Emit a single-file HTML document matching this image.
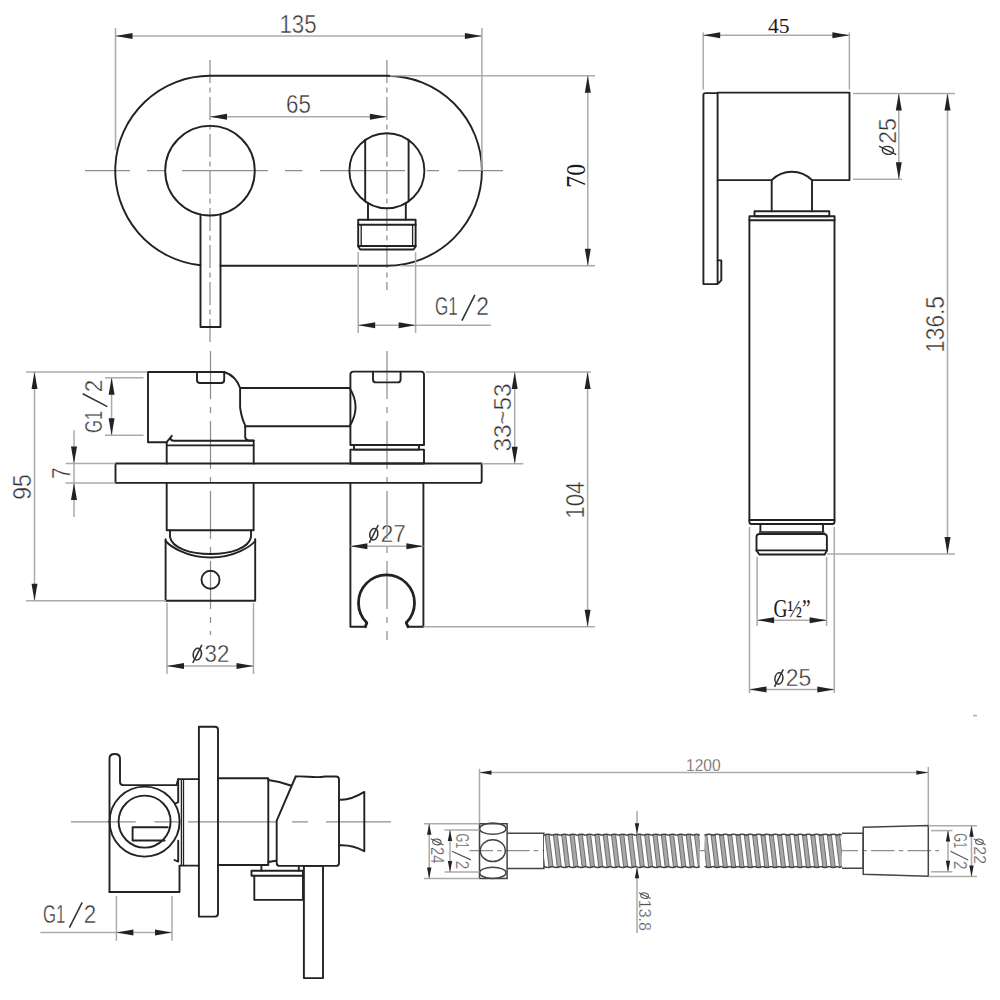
<!DOCTYPE html>
<html><head><meta charset="utf-8"><style>
html,body{margin:0;padding:0;background:#fff;}
svg{display:block;}
.k{fill:none;stroke:#222;stroke-width:1.9;stroke-linejoin:round;stroke-linecap:round;}
.k2{fill:none;stroke:#222;stroke-width:1.3;}
.h{fill:none;stroke:#444;stroke-width:1.5;}
.t{fill:none;stroke:#ababab;stroke-width:1.5;}
.c{fill:none;stroke:#8e8e8e;stroke-width:1.25;stroke-dasharray:30 5 5 5;}
.cs{fill:none;stroke:#8e8e8e;stroke-width:1.25;}
text{white-space:pre;}
</style></head><body>
<svg width="1000" height="1000" viewBox="0 0 1000 1000">
<rect width="1000" height="1000" fill="#fff"/>
<path class="cs" d="M85,170.7 H130 M147,170.7 H165 M182,170.7 H268 M285,170.7 H302.4 M320,170.7 H405 M427,170.7 H439 M458,170.7 H503" />
<path class="c" d="M210,60 V342" style="stroke-dasharray:23 4.5 5 4.5"/>
<path class="c" d="M386.9,60 V290" style="stroke-dasharray:23 4.5 5 4.5"/>
<path class="k" d="M220.5,265.7 H386.9 A95.0,95.0 0 0 0 386.9,75.69999999999999 H210 A95.0,95.0 0 0 0 200.5,265.2" />
<circle class="k" cx="210" cy="170.7" r="44.8"/>
<path class="k" d="M200.5,214.5 V327 H220.5 V214.5" />
<circle class="k" cx="386.9" cy="170.7" r="37.5"/>
<path class="k" d="M365.2,140.1 V201.29999999999998 M408.6,140.1 V201.29999999999998" />
<path class="k" d="M368,203.1 V219.7 M405.8,203.1 V219.7" />
<path class="k" d="M358.2,219.7 H415.6 V246.5 L413.6,249.5 H360.2 L358.2,246.5 Z" />
<path class="k" d="M358.2,224.8 H415.6 M358.2,246 H415.6" />
<path class="k2" d="M361.2,224.8 V246 M412.6,224.8 V246" />
<line class="t" x1="115.5" y1="28" x2="115.5" y2="150"/>
<line class="t" x1="481.9" y1="28" x2="481.9" y2="171"/>
<line class="t" x1="115.5" y1="36.1" x2="481.9" y2="36.1"/>
<polygon fill="#222" points="115.50,36.10 132.50,33.10 132.50,39.10"/>
<polygon fill="#222" points="481.90,36.10 464.90,33.10 464.90,39.10"/>
<text transform="translate(279.43,32.80) scale(0.8656,1)" font-family="Liberation Sans" font-size="25.71" fill="#333" stroke="#fff" stroke-width="0.45">135</text>
<line class="t" x1="210" y1="116.7" x2="386.9" y2="116.7"/>
<polygon fill="#222" points="210.00,116.70 227.00,113.70 227.00,119.70"/>
<polygon fill="#222" points="386.90,116.70 369.90,113.70 369.90,119.70"/>
<text transform="translate(286.08,113.20) scale(0.8597,1)" font-family="Liberation Sans" font-size="26.00" fill="#333" stroke="#fff" stroke-width="0.46">65</text>
<line class="t" x1="390" y1="75.7" x2="595" y2="75.7"/>
<line class="t" x1="400" y1="265.7" x2="595" y2="265.7"/>
<line class="t" x1="587.8" y1="75.7" x2="587.8" y2="265.7"/>
<polygon fill="#222" points="587.80,75.70 584.80,92.70 590.80,92.70"/>
<polygon fill="#222" points="587.80,265.70 584.80,248.70 590.80,248.70"/>
<g transform="rotate(-90)">
<text transform="translate(-187.75,585.10) scale(0.9044,1)" font-family="Liberation Serif" font-size="26.32" fill="#1a1a1a" stroke="#fff" stroke-width="0.00">70</text>
</g>
<line class="t" x1="358.2" y1="252" x2="358.2" y2="333"/>
<line class="t" x1="415.6" y1="252" x2="415.6" y2="333"/>
<line class="t" x1="358.2" y1="325.3" x2="491" y2="325.3"/>
<polygon fill="#222" points="358.20,325.30 375.20,322.30 375.20,328.30"/>
<polygon fill="#222" points="415.60,325.30 398.60,322.30 398.60,328.30"/>
<text transform="translate(435.05,315.40) scale(0.6658,1)" font-family="Liberation Sans" font-size="25.57" fill="#333" stroke="#fff" stroke-width="0.45">G1</text>
<line x1="461.90" y1="320.59" x2="474.90" y2="294.90" stroke="#333" stroke-width="1.61"/>
<text transform="translate(476.36,315.40) scale(0.8939,1)" font-family="Liberation Sans" font-size="25.57" fill="#333" stroke="#fff" stroke-width="0.45">2</text>
<line class="t" x1="703.2" y1="32.5" x2="703.2" y2="89.5"/>
<line class="t" x1="849.4" y1="32.5" x2="849.4" y2="89.5"/>
<line class="t" x1="703.2" y1="35.3" x2="849.4" y2="35.3"/>
<polygon fill="#222" points="703.20,35.30 720.20,32.30 720.20,38.30"/>
<polygon fill="#222" points="849.40,35.30 832.40,32.30 832.40,38.30"/>
<text transform="translate(768.07,33.20) scale(0.9898,1)" font-family="Liberation Serif" font-size="21.82" fill="#1a1a1a" stroke="#fff" stroke-width="0.00">45</text>
<path class="k" d="M703.4,284.1 V95.1 Q703.4,93.1 705.4,93.1 H717.6 V284.1 Z" />
<path class="k" d="M717.6,260.4 H721.3 V280.3 L718.6,283" />
<path class="k" d="M717.6,92.6 H849.5 V180.1 H812 M771.7,180.1 H717.6" />
<path class="k" d="M771.7,211.2 V180.1 A28.4,28.4 0 0 1 812,180.1 V211.2" />
<rect class="k" x="754.5" y="211.2" width="74.8" height="5.1"/>
<rect class="k" x="749.4" y="216.3" width="85.2" height="4.0"/>
<path class="k" d="M749.4,220.3 V520 H834.5 V220.3" />
<path class="k" d="M749.4,520 V522 Q749.4,524 751.4,524 H832.5 Q834.5,524 834.5,522 V520" />
<path class="k" d="M760.4,524 V532.5 H823 V524" />
<rect x="759" y="531.2" width="65.5" height="3" fill="#444"/>
<path class="k" d="M756.5,537 Q756.5,534 759.5,534 H823.9 Q826.9,534 826.9,537 V550.4 L824.7,554.5 H759.3 L756.5,550.4 Z" />
<path class="k" d="M756.5,550.4 H826.9" />
<line class="t" x1="853" y1="93.6" x2="955" y2="93.6"/>
<line class="t" x1="853" y1="179.2" x2="902" y2="179.2"/>
<line class="t" x1="898.8" y1="93.6" x2="898.8" y2="179.2"/>
<polygon fill="#222" points="898.80,93.60 895.80,110.60 901.80,110.60"/>
<polygon fill="#222" points="898.80,179.20 895.80,162.20 901.80,162.20"/>
<g transform="rotate(-90)">
<ellipse cx="-150.38" cy="887.91" rx="3.88" ry="5.61" transform="rotate(10 -150.38 887.91)" fill="none" stroke="#333" stroke-width="1.48"/>
<line x1="-154.70" y1="896.16" x2="-146.06" y2="879.00" stroke="#333" stroke-width="1.48"/>
<text transform="translate(-143.78,895.50) scale(0.9826,1)" font-family="Liberation Sans" font-size="23.57" fill="#333" stroke="#fff" stroke-width="0.41">25</text>
</g>
<line class="t" x1="827" y1="553.9" x2="955" y2="553.9"/>
<line class="t" x1="947.5" y1="93.6" x2="947.5" y2="553.9"/>
<polygon fill="#222" points="947.50,93.60 944.50,110.60 950.50,110.60"/>
<polygon fill="#222" points="947.50,553.90 944.50,536.90 950.50,536.90"/>
<g transform="rotate(-90)">
<text transform="translate(-352.80,943.80) scale(0.9057,1)" font-family="Liberation Sans" font-size="25.00" fill="#333" stroke="#fff" stroke-width="0.44">136.5</text>
</g>
<line class="t" x1="757.1" y1="557" x2="757.1" y2="626"/>
<line class="t" x1="826.6" y1="557" x2="826.6" y2="626"/>
<line class="t" x1="757.1" y1="620.2" x2="826.6" y2="620.2"/>
<polygon fill="#222" points="757.10,620.20 774.10,617.20 774.10,623.20"/>
<polygon fill="#222" points="826.60,620.20 809.60,617.20 809.60,623.20"/>
<text transform="translate(773.42,616.60) scale(0.7620,1)" font-family="Liberation Serif" font-size="25.45" fill="#1a1a1a" stroke="#fff" stroke-width="0.00">G½”</text>
<line class="t" x1="749.5" y1="527" x2="749.5" y2="693"/>
<line class="t" x1="834.3" y1="527" x2="834.3" y2="693"/>
<line class="t" x1="749.5" y1="689.4" x2="834.3" y2="689.4"/>
<polygon fill="#222" points="749.50,689.40 766.50,686.40 766.50,692.40"/>
<polygon fill="#222" points="834.30,689.40 817.30,686.40 817.30,692.40"/>
<ellipse cx="778.90" cy="678.47" rx="3.95" ry="5.71" transform="rotate(10 778.90 678.47)" fill="none" stroke="#333" stroke-width="1.51"/>
<line x1="774.50" y1="686.87" x2="783.31" y2="669.40" stroke="#333" stroke-width="1.51"/>
<text transform="translate(785.65,686.20) scale(0.9559,1)" font-family="Liberation Sans" font-size="24.00" fill="#333" stroke="#fff" stroke-width="0.42">25</text>
<line class="t" x1="973" y1="715.6" x2="977" y2="715.6"/>
<path class="c" d="M210.5,351 V635" style="stroke-dasharray:48 8 6 8"/>
<path class="c" d="M387,351 V640" style="stroke-dasharray:48 8 6 8"/>
<path class="k" d="M115.5,463.5 H481.7 V481 Q481.7,482.9 479.7,482.9 H115.5 Z" />
<path class="k" d="M166,442.3 H148 V372 H224.4 Q236,376 240.1,388 V407.5 Q241.5,418 245.2,425.4 V437.3 Q245.8,440.5 249,440.5 H253.7" />
<path class="k" d="M166.5,442.3 L171.8,435.8" />
<path class="k" d="M197,372 V380 Q197,383 200,383 H221.2 Q224.2,383 224.2,380 V372" />
<path class="k" d="M170.4,438.3 Q171,440.8 173.5,440.8 H253.7 V463.5 M166.7,463.5 V442.3 M166.7,445.4 H253.7" />
<path class="k" d="M240.1,388 H349.6 Q361.5,407 349.6,426.2 H245.2" />
<path class="k" d="M350.4,445 V374.6 Q350.4,371.6 353.4,371.6 H421 Q424,371.6 424,374.6 V445 Z" />
<path class="k" d="M373,371.6 V379.4 Q373,382.4 376,382.4 H397.6 Q400.6,382.4 400.6,379.4 V371.6" />
<rect class="k" x="354" y="445" width="65" height="4.6"/>
<rect class="k" x="350.4" y="449.6" width="73.6" height="13.9"/>
<path class="k" d="M166.7,482.9 V530.3 H253.6 V482.9" />
<path class="k" d="M170,530.3 V537 C172,548 190,554 210.5,554 C231,554 249,548 251,537 V530.3" />
<path class="k" d="M165.6,541 C170,546 186,557.5 210.5,557.5 C235,557.5 251,546 255.2,541" />
<path class="k" d="M165.6,539.2 V600.7 H255.2 V539.2" />
<circle class="k" cx="210.5" cy="579.7" r="9"/>
<path class="k" d="M350.4,482.9 V626.8 H365.4 M408,626.8 H423.4 V482.9" />
<path class="k" d="M365.4,626.8 L366.8,622.8 A28,28 0 1 1 406.2,622.8 L408,626.8" style="stroke-width:2.8"/>
<line class="t" x1="26" y1="372" x2="147" y2="372"/>
<line class="t" x1="26" y1="600.8" x2="166" y2="600.8"/>
<line class="t" x1="34.5" y1="372" x2="34.5" y2="600.8"/>
<polygon fill="#222" points="34.50,372.00 31.50,389.00 37.50,389.00"/>
<polygon fill="#222" points="34.50,600.80 31.50,583.80 37.50,583.80"/>
<g transform="rotate(-90)">
<text transform="translate(-499.83,30.75) scale(0.8794,1)" font-family="Liberation Sans" font-size="26.07" fill="#333" stroke="#fff" stroke-width="0.46">95</text>
</g>
<line class="t" x1="105" y1="377.8" x2="143.5" y2="377.8"/>
<line class="t" x1="105" y1="435.3" x2="143.5" y2="435.3"/>
<line class="t" x1="111.6" y1="377.8" x2="111.6" y2="435.3"/>
<polygon fill="#222" points="111.60,377.80 108.60,394.80 114.60,394.80"/>
<polygon fill="#222" points="111.60,435.30 108.60,418.30 114.60,418.30"/>
<g transform="rotate(-90)">
<text transform="translate(-433.04,102.40) scale(0.6823,1)" font-family="Liberation Sans" font-size="24.57" fill="#333" stroke="#fff" stroke-width="0.43">G1</text>
<line x1="-406.60" y1="107.39" x2="-393.80" y2="82.71" stroke="#333" stroke-width="1.55"/>
<text transform="translate(-392.37,102.40) scale(0.9159,1)" font-family="Liberation Sans" font-size="24.57" fill="#333" stroke="#fff" stroke-width="0.43">2</text>
</g>
<line class="t" x1="65.5" y1="463.6" x2="115.5" y2="463.6"/>
<line class="t" x1="65.5" y1="483" x2="115.5" y2="483"/>
<line class="t" x1="74" y1="430.2" x2="74" y2="517"/>
<polygon fill="#222" points="74.00,463.60 71.00,446.60 77.00,446.60"/>
<polygon fill="#222" points="74.00,483.00 71.00,500.00 77.00,500.00"/>
<g transform="rotate(-90)">
<text transform="translate(-479.04,69.80) scale(0.7872,1)" font-family="Liberation Sans" font-size="26.52" fill="#333" stroke="#fff" stroke-width="0.46">7</text>
</g>
<line class="t" x1="425.8" y1="372" x2="591" y2="372"/>
<line class="t" x1="481.7" y1="463.8" x2="523.3" y2="463.8"/>
<line class="t" x1="514.7" y1="372" x2="514.7" y2="463.8"/>
<polygon fill="#222" points="514.70,372.00 511.70,389.00 517.70,389.00"/>
<polygon fill="#222" points="514.70,463.80 511.70,446.80 517.70,446.80"/>
<g transform="rotate(-90)">
<text transform="translate(-451.57,510.60) scale(0.9812,1)" font-family="Liberation Sans" font-size="24.71" fill="#333" stroke="#fff" stroke-width="0.43">33~53</text>
</g>
<line class="t" x1="423.4" y1="626.8" x2="595" y2="626.8"/>
<line class="t" x1="587.6" y1="372" x2="587.6" y2="626.8"/>
<polygon fill="#222" points="587.60,372.00 584.60,389.00 590.60,389.00"/>
<polygon fill="#222" points="587.60,626.80 584.60,609.80 590.60,609.80"/>
<g transform="rotate(-90)">
<text transform="translate(-518.46,583.80) scale(0.8600,1)" font-family="Liberation Sans" font-size="25.71" fill="#333" stroke="#fff" stroke-width="0.45">104</text>
</g>
<line class="t" x1="350.4" y1="546.2" x2="423.4" y2="546.2"/>
<polygon fill="#222" points="350.40,546.20 367.40,543.20 367.40,549.20"/>
<polygon fill="#222" points="423.40,546.20 406.40,543.20 406.40,549.20"/>
<ellipse cx="373.79" cy="534.23" rx="4.02" ry="5.81" transform="rotate(10 373.79 534.23)" fill="none" stroke="#333" stroke-width="1.54"/>
<line x1="369.30" y1="542.78" x2="378.28" y2="525.00" stroke="#333" stroke-width="1.54"/>
<text transform="translate(380.70,542.10) scale(0.9231,1)" font-family="Liberation Sans" font-size="24.43" fill="#333" stroke="#fff" stroke-width="0.43">27</text>
<line class="t" x1="167" y1="603" x2="167" y2="674"/>
<line class="t" x1="253.5" y1="603" x2="253.5" y2="674"/>
<line class="t" x1="167" y1="666" x2="253.5" y2="666"/>
<polygon fill="#222" points="167.00,666.00 184.00,663.00 184.00,669.00"/>
<polygon fill="#222" points="253.50,666.00 236.50,663.00 236.50,669.00"/>
<ellipse cx="197.34" cy="654.14" rx="4.07" ry="5.88" transform="rotate(10 197.34 654.14)" fill="none" stroke="#333" stroke-width="1.56"/>
<line x1="192.80" y1="662.79" x2="201.89" y2="644.80" stroke="#333" stroke-width="1.56"/>
<text transform="translate(204.58,662.10) scale(0.9015,1)" font-family="Liberation Sans" font-size="24.71" fill="#333" stroke="#fff" stroke-width="0.43">32</text>
<path class="cs" d="M71,821.8 H135.7 M154.4,821.8 H179 M188,821.8 H276.7 M292,821.8 H308 M326,821.8 H391" />
<path class="k" d="M109.5,892 V758.5 Q109.5,754 114.7,754 Q120,754 120,758.5 V782 Q120,785.1 123.2,785.1 H176.6 L178.2,779.1 H198.8" />
<path class="k" d="M109.5,892 H179.5 V865.6 H198.8" />
<path class="k" d="M178.2,779.1 V802.2 L175.6,803.3 M178.2,840.8 V861.6 L174.5,860" />
<path class="k2" d="M181.4,779.1 V865.6 M183.5,779.1 V865.6" />
<circle class="k" cx="144.6" cy="821.6" r="35"/>
<circle class="k" cx="144.6" cy="821.6" r="26"/>
<path class="k" d="M167.7,827.2 H132.6 V840.5 H164.6" />
<path class="k" d="M198.9,916.6 V726.7 H215 Q218,726.7 218,729.7 V913.6 Q218,916.6 215,916.6 Z" />
<path class="k" d="M218,778.3 H268.3 V865 H218" />
<path class="k" d="M268.3,780 Q280,781.5 290.8,785.5" />
<path class="k" d="M295.7,776.5 L276.7,820.7 V862" />
<path class="k" d="M268.3,862 L275.9,860.8" />
<path class="k" d="M295.7,776.5 C305,775.5 315,778.5 325,776.5 H336 Q339,776.5 339,779.5 V862.9 Q339,865.9 336,865.9 H279.7 Q276.7,865.9 276.7,862.9" />
<path class="k" d="M339,799.6 C348,800.5 356,797 364.3,791.9 V851.3 C356,846.5 348,844.8 339,845.3" />
<path class="k" d="M261.4,865 V870.7 M298.8,865.9 V870.7" />
<rect class="k" x="251.5" y="870.7" width="51.5" height="5.1"/>
<path class="k" d="M303,875.8 V899.9 H254.3 V875.8" />
<rect class="k" x="303.9" y="865.9" width="19.1" height="112.2"/>
<line class="t" x1="116.4" y1="896" x2="116.4" y2="940.8"/>
<line class="t" x1="172" y1="896" x2="172" y2="940.8"/>
<line class="t" x1="40.4" y1="932.5" x2="172" y2="932.5"/>
<polygon fill="#222" points="116.40,932.50 133.40,929.50 133.40,935.50"/>
<polygon fill="#222" points="172.00,932.50 155.00,929.50 155.00,935.50"/>
<text transform="translate(42.96,922.60) scale(0.6667,1)" font-family="Liberation Sans" font-size="25.14" fill="#333" stroke="#fff" stroke-width="0.44">G1</text>
<line x1="69.40" y1="927.70" x2="82.20" y2="902.45" stroke="#333" stroke-width="1.58"/>
<text transform="translate(83.63,922.60) scale(0.8951,1)" font-family="Liberation Sans" font-size="25.14" fill="#333" stroke="#fff" stroke-width="0.44">2</text>
<path class="c" d="M469.5,850.5 H939" style="stroke-dasharray:23.5 4.2 4.6 4.2"/>
<line class="t" x1="479.5" y1="768.8" x2="479.5" y2="823"/>
<line class="t" x1="928.3" y1="767" x2="928.3" y2="825"/>
<line class="t" x1="479.5" y1="772.6" x2="928.3" y2="772.6"/>
<polygon fill="#222" points="479.50,772.60 491.50,770.40 491.50,774.80"/>
<polygon fill="#222" points="928.30,772.60 916.30,770.40 916.30,774.80"/>
<text transform="translate(686.03,771.00) scale(0.8925,1)" font-family="Liberation Sans" font-size="17.43" fill="#555" stroke="#fff" stroke-width="0.31">1200</text>
<path class="h" d="M479.5,823.8 H507.1 V878.4 H479.5 Z" />
<ellipse class="h" cx="492.8" cy="828.7" rx="13.3" ry="5.6"/>
<ellipse class="h" cx="492.8" cy="850.7" rx="12.5" ry="10.9"/>
<ellipse class="h" cx="492.8" cy="872.8" rx="13.3" ry="5.6"/>
<path class="h" d="M507.1,833.3 H543.9 V868.6 H507.1" />
<clipPath id="hc543"><rect x="543.9" y="834.3" width="155.89999999999998" height="33.0"/></clipPath>
<g clip-path="url(#hc543)">
<rect x="543.9" y="834.3" width="155.89999999999998" height="33.0" fill="#fff"/>
<polygon points="520.10,834.3 524.20,834.3 528.20,867.3 524.10,867.3" fill="#a8a8a8" stroke="#555" stroke-width="0.8"/>
<polygon points="528.40,834.3 532.50,834.3 536.50,867.3 532.40,867.3" fill="#a8a8a8" stroke="#555" stroke-width="0.8"/>
<polygon points="536.70,834.3 540.80,834.3 544.80,867.3 540.70,867.3" fill="#a8a8a8" stroke="#555" stroke-width="0.8"/>
<polygon points="545.00,834.3 549.10,834.3 553.10,867.3 549.00,867.3" fill="#a8a8a8" stroke="#555" stroke-width="0.8"/>
<polygon points="553.30,834.3 557.40,834.3 561.40,867.3 557.30,867.3" fill="#a8a8a8" stroke="#555" stroke-width="0.8"/>
<polygon points="561.60,834.3 565.70,834.3 569.70,867.3 565.60,867.3" fill="#a8a8a8" stroke="#555" stroke-width="0.8"/>
<polygon points="569.90,834.3 574.00,834.3 578.00,867.3 573.90,867.3" fill="#a8a8a8" stroke="#555" stroke-width="0.8"/>
<polygon points="578.20,834.3 582.30,834.3 586.30,867.3 582.20,867.3" fill="#a8a8a8" stroke="#555" stroke-width="0.8"/>
<polygon points="586.50,834.3 590.60,834.3 594.60,867.3 590.50,867.3" fill="#a8a8a8" stroke="#555" stroke-width="0.8"/>
<polygon points="594.80,834.3 598.90,834.3 602.90,867.3 598.80,867.3" fill="#a8a8a8" stroke="#555" stroke-width="0.8"/>
<polygon points="603.10,834.3 607.20,834.3 611.20,867.3 607.10,867.3" fill="#a8a8a8" stroke="#555" stroke-width="0.8"/>
<polygon points="611.40,834.3 615.50,834.3 619.50,867.3 615.40,867.3" fill="#a8a8a8" stroke="#555" stroke-width="0.8"/>
<polygon points="619.70,834.3 623.80,834.3 627.80,867.3 623.70,867.3" fill="#a8a8a8" stroke="#555" stroke-width="0.8"/>
<polygon points="628.00,834.3 632.10,834.3 636.10,867.3 632.00,867.3" fill="#a8a8a8" stroke="#555" stroke-width="0.8"/>
<polygon points="636.30,834.3 640.40,834.3 644.40,867.3 640.30,867.3" fill="#a8a8a8" stroke="#555" stroke-width="0.8"/>
<polygon points="644.60,834.3 648.70,834.3 652.70,867.3 648.60,867.3" fill="#a8a8a8" stroke="#555" stroke-width="0.8"/>
<polygon points="652.90,834.3 657.00,834.3 661.00,867.3 656.90,867.3" fill="#a8a8a8" stroke="#555" stroke-width="0.8"/>
<polygon points="661.20,834.3 665.30,834.3 669.30,867.3 665.20,867.3" fill="#a8a8a8" stroke="#555" stroke-width="0.8"/>
<polygon points="669.50,834.3 673.60,834.3 677.60,867.3 673.50,867.3" fill="#a8a8a8" stroke="#555" stroke-width="0.8"/>
<polygon points="677.80,834.3 681.90,834.3 685.90,867.3 681.80,867.3" fill="#a8a8a8" stroke="#555" stroke-width="0.8"/>
<polygon points="686.10,834.3 690.20,834.3 694.20,867.3 690.10,867.3" fill="#a8a8a8" stroke="#555" stroke-width="0.8"/>
<polygon points="694.40,834.3 698.50,834.3 702.50,867.3 698.40,867.3" fill="#a8a8a8" stroke="#555" stroke-width="0.8"/>
<polygon points="702.70,834.3 706.80,834.3 710.80,867.3 706.70,867.3" fill="#a8a8a8" stroke="#555" stroke-width="0.8"/>
</g>
<path class="h" d="M543.90,835.3 Q548.05,833.0999999999999 552.20,835.3 M543.90,866.3 Q548.05,868.5 552.20,866.3 M552.20,835.3 Q556.35,833.0999999999999 560.50,835.3 M552.20,866.3 Q556.35,868.5 560.50,866.3 M560.50,835.3 Q564.65,833.0999999999999 568.80,835.3 M560.50,866.3 Q564.65,868.5 568.80,866.3 M568.80,835.3 Q572.95,833.0999999999999 577.10,835.3 M568.80,866.3 Q572.95,868.5 577.10,866.3 M577.10,835.3 Q581.25,833.0999999999999 585.40,835.3 M577.10,866.3 Q581.25,868.5 585.40,866.3 M585.40,835.3 Q589.55,833.0999999999999 593.70,835.3 M585.40,866.3 Q589.55,868.5 593.70,866.3 M593.70,835.3 Q597.85,833.0999999999999 602.00,835.3 M593.70,866.3 Q597.85,868.5 602.00,866.3 M602.00,835.3 Q606.15,833.0999999999999 610.30,835.3 M602.00,866.3 Q606.15,868.5 610.30,866.3 M610.30,835.3 Q614.45,833.0999999999999 618.60,835.3 M610.30,866.3 Q614.45,868.5 618.60,866.3 M618.60,835.3 Q622.75,833.0999999999999 626.90,835.3 M618.60,866.3 Q622.75,868.5 626.90,866.3 M626.90,835.3 Q631.05,833.0999999999999 635.20,835.3 M626.90,866.3 Q631.05,868.5 635.20,866.3 M635.20,835.3 Q639.35,833.0999999999999 643.50,835.3 M635.20,866.3 Q639.35,868.5 643.50,866.3 M643.50,835.3 Q647.65,833.0999999999999 651.80,835.3 M643.50,866.3 Q647.65,868.5 651.80,866.3 M651.80,835.3 Q655.95,833.0999999999999 660.10,835.3 M651.80,866.3 Q655.95,868.5 660.10,866.3 M660.10,835.3 Q664.25,833.0999999999999 668.40,835.3 M660.10,866.3 Q664.25,868.5 668.40,866.3 M668.40,835.3 Q672.55,833.0999999999999 676.70,835.3 M668.40,866.3 Q672.55,868.5 676.70,866.3 M676.70,835.3 Q680.85,833.0999999999999 685.00,835.3 M676.70,866.3 Q680.85,868.5 685.00,866.3 M685.00,835.3 Q689.15,833.0999999999999 693.30,835.3 M685.00,866.3 Q689.15,868.5 693.30,866.3 M693.30,835.3 Q696.55,833.0999999999999 699.80,835.3 M693.30,866.3 Q696.55,868.5 699.80,866.3 " />
<clipPath id="hc704"><rect x="704.6" y="834.3" width="137.19999999999993" height="33.0"/></clipPath>
<g clip-path="url(#hc704)">
<rect x="704.6" y="834.3" width="137.19999999999993" height="33.0" fill="#fff"/>
<polygon points="686.10,834.3 690.20,834.3 694.20,867.3 690.10,867.3" fill="#a8a8a8" stroke="#555" stroke-width="0.8"/>
<polygon points="694.40,834.3 698.50,834.3 702.50,867.3 698.40,867.3" fill="#a8a8a8" stroke="#555" stroke-width="0.8"/>
<polygon points="702.70,834.3 706.80,834.3 710.80,867.3 706.70,867.3" fill="#a8a8a8" stroke="#555" stroke-width="0.8"/>
<polygon points="711.00,834.3 715.10,834.3 719.10,867.3 715.00,867.3" fill="#a8a8a8" stroke="#555" stroke-width="0.8"/>
<polygon points="719.30,834.3 723.40,834.3 727.40,867.3 723.30,867.3" fill="#a8a8a8" stroke="#555" stroke-width="0.8"/>
<polygon points="727.60,834.3 731.70,834.3 735.70,867.3 731.60,867.3" fill="#a8a8a8" stroke="#555" stroke-width="0.8"/>
<polygon points="735.90,834.3 740.00,834.3 744.00,867.3 739.90,867.3" fill="#a8a8a8" stroke="#555" stroke-width="0.8"/>
<polygon points="744.20,834.3 748.30,834.3 752.30,867.3 748.20,867.3" fill="#a8a8a8" stroke="#555" stroke-width="0.8"/>
<polygon points="752.50,834.3 756.60,834.3 760.60,867.3 756.50,867.3" fill="#a8a8a8" stroke="#555" stroke-width="0.8"/>
<polygon points="760.80,834.3 764.90,834.3 768.90,867.3 764.80,867.3" fill="#a8a8a8" stroke="#555" stroke-width="0.8"/>
<polygon points="769.10,834.3 773.20,834.3 777.20,867.3 773.10,867.3" fill="#a8a8a8" stroke="#555" stroke-width="0.8"/>
<polygon points="777.40,834.3 781.50,834.3 785.50,867.3 781.40,867.3" fill="#a8a8a8" stroke="#555" stroke-width="0.8"/>
<polygon points="785.70,834.3 789.80,834.3 793.80,867.3 789.70,867.3" fill="#a8a8a8" stroke="#555" stroke-width="0.8"/>
<polygon points="794.00,834.3 798.10,834.3 802.10,867.3 798.00,867.3" fill="#a8a8a8" stroke="#555" stroke-width="0.8"/>
<polygon points="802.30,834.3 806.40,834.3 810.40,867.3 806.30,867.3" fill="#a8a8a8" stroke="#555" stroke-width="0.8"/>
<polygon points="810.60,834.3 814.70,834.3 818.70,867.3 814.60,867.3" fill="#a8a8a8" stroke="#555" stroke-width="0.8"/>
<polygon points="818.90,834.3 823.00,834.3 827.00,867.3 822.90,867.3" fill="#a8a8a8" stroke="#555" stroke-width="0.8"/>
<polygon points="827.20,834.3 831.30,834.3 835.30,867.3 831.20,867.3" fill="#a8a8a8" stroke="#555" stroke-width="0.8"/>
<polygon points="835.50,834.3 839.60,834.3 843.60,867.3 839.50,867.3" fill="#a8a8a8" stroke="#555" stroke-width="0.8"/>
<polygon points="843.80,834.3 847.90,834.3 851.90,867.3 847.80,867.3" fill="#a8a8a8" stroke="#555" stroke-width="0.8"/>
</g>
<path class="h" d="M704.60,835.3 Q708.75,833.0999999999999 712.90,835.3 M704.60,866.3 Q708.75,868.5 712.90,866.3 M712.90,835.3 Q717.05,833.0999999999999 721.20,835.3 M712.90,866.3 Q717.05,868.5 721.20,866.3 M721.20,835.3 Q725.35,833.0999999999999 729.50,835.3 M721.20,866.3 Q725.35,868.5 729.50,866.3 M729.50,835.3 Q733.65,833.0999999999999 737.80,835.3 M729.50,866.3 Q733.65,868.5 737.80,866.3 M737.80,835.3 Q741.95,833.0999999999999 746.10,835.3 M737.80,866.3 Q741.95,868.5 746.10,866.3 M746.10,835.3 Q750.25,833.0999999999999 754.40,835.3 M746.10,866.3 Q750.25,868.5 754.40,866.3 M754.40,835.3 Q758.55,833.0999999999999 762.70,835.3 M754.40,866.3 Q758.55,868.5 762.70,866.3 M762.70,835.3 Q766.85,833.0999999999999 771.00,835.3 M762.70,866.3 Q766.85,868.5 771.00,866.3 M771.00,835.3 Q775.15,833.0999999999999 779.30,835.3 M771.00,866.3 Q775.15,868.5 779.30,866.3 M779.30,835.3 Q783.45,833.0999999999999 787.60,835.3 M779.30,866.3 Q783.45,868.5 787.60,866.3 M787.60,835.3 Q791.75,833.0999999999999 795.90,835.3 M787.60,866.3 Q791.75,868.5 795.90,866.3 M795.90,835.3 Q800.05,833.0999999999999 804.20,835.3 M795.90,866.3 Q800.05,868.5 804.20,866.3 M804.20,835.3 Q808.35,833.0999999999999 812.50,835.3 M804.20,866.3 Q808.35,868.5 812.50,866.3 M812.50,835.3 Q816.65,833.0999999999999 820.80,835.3 M812.50,866.3 Q816.65,868.5 820.80,866.3 M820.80,835.3 Q824.95,833.0999999999999 829.10,835.3 M820.80,866.3 Q824.95,868.5 829.10,866.3 M829.10,835.3 Q833.25,833.0999999999999 837.40,835.3 M829.10,866.3 Q833.25,868.5 837.40,866.3 M837.40,835.3 Q839.60,833.0999999999999 841.80,835.3 M837.40,866.3 Q839.60,868.5 841.80,866.3 " />
<path class="h" d="M842,833.2 H863.2 V868.3 H842" />
<path class="h" d="M863.2,827.2 L928.3,825.5 V876.2 L863.2,874.3 Z" />
<line class="t" x1="637" y1="811" x2="637" y2="834.3"/>
<line class="t" x1="637" y1="867.3" x2="637" y2="933"/>
<polygon fill="#222" points="637.00,834.30 634.80,823.30 639.20,823.30"/>
<polygon fill="#222" points="637.00,867.30 634.80,878.30 639.20,878.30"/>
<g transform="rotate(90)">
<ellipse cx="895.62" cy="-644.59" rx="2.70" ry="3.91" transform="rotate(10 895.62 -644.59)" fill="none" stroke="#555" stroke-width="1.03"/>
<line x1="892.70" y1="-638.84" x2="898.54" y2="-650.80" stroke="#555" stroke-width="1.03"/>
<text transform="translate(899.83,-639.30) scale(0.9704,1)" font-family="Liberation Sans" font-size="16.43" fill="#555" stroke="#fff" stroke-width="0.29">13.8</text>
</g>
<line class="t" x1="424" y1="823.8" x2="479.5" y2="823.8"/>
<line class="t" x1="424" y1="878.4" x2="479.5" y2="878.4"/>
<line class="t" x1="429.2" y1="823.8" x2="429.2" y2="878.4"/>
<polygon fill="#222" points="429.20,823.80 427.00,834.80 431.40,834.80"/>
<polygon fill="#222" points="429.20,878.40 427.00,867.40 431.40,867.40"/>
<g transform="rotate(90)">
<ellipse cx="841.93" cy="-436.88" rx="2.88" ry="4.17" transform="rotate(10 841.93 -436.88)" fill="none" stroke="#555" stroke-width="1.10"/>
<line x1="838.80" y1="-430.76" x2="845.06" y2="-443.50" stroke="#555" stroke-width="1.10"/>
<text transform="translate(846.94,-431.25) scale(0.8495,1)" font-family="Liberation Sans" font-size="17.50" fill="#555" stroke="#fff" stroke-width="0.31">24</text>
</g>
<line class="t" x1="444.5" y1="830.1" x2="479.5" y2="830.1"/>
<line class="t" x1="444.5" y1="872.1" x2="479.5" y2="872.1"/>
<line class="t" x1="450" y1="830.1" x2="450" y2="872.1"/>
<polygon fill="#222" points="450.00,830.10 447.80,841.10 452.20,841.10"/>
<polygon fill="#222" points="450.00,872.10 447.80,861.10 452.20,861.10"/>
<g transform="rotate(90)">
<text transform="translate(833.44,-455.75) scale(0.5968,1)" font-family="Liberation Sans" font-size="18.93" fill="#555" stroke="#fff" stroke-width="0.33">G1</text>
<line x1="851.25" y1="-451.91" x2="859.88" y2="-470.92" stroke="#555" stroke-width="1.19"/>
<text transform="translate(860.84,-455.75) scale(0.8012,1)" font-family="Liberation Sans" font-size="18.93" fill="#555" stroke="#fff" stroke-width="0.33">2</text>
</g>
<line class="t" x1="928.3" y1="825.7" x2="977" y2="825.7"/>
<line class="t" x1="928.3" y1="876.4" x2="977" y2="876.4"/>
<line class="t" x1="931" y1="830.6" x2="952.4" y2="830.6"/>
<line class="t" x1="931" y1="871.8" x2="952.4" y2="871.8"/>
<line class="t" x1="948" y1="830.6" x2="948" y2="871.8"/>
<polygon fill="#222" points="948.00,830.60 945.80,841.60 950.20,841.60"/>
<polygon fill="#222" points="948.00,871.80 945.80,860.80 950.20,860.80"/>
<g transform="rotate(90)">
<text transform="translate(833.23,-954.10) scale(0.6485,1)" font-family="Liberation Sans" font-size="17.57" fill="#555" stroke="#fff" stroke-width="0.31">G1</text>
<line x1="851.20" y1="-950.53" x2="859.90" y2="-968.18" stroke="#555" stroke-width="1.11"/>
<text transform="translate(860.88,-954.10) scale(0.8705,1)" font-family="Liberation Sans" font-size="17.57" fill="#555" stroke="#fff" stroke-width="0.31">2</text>
</g>
<line class="t" x1="971.5" y1="825.7" x2="971.5" y2="876.4"/>
<polygon fill="#222" points="971.50,825.70 969.30,836.70 973.70,836.70"/>
<polygon fill="#222" points="971.50,876.40 969.30,865.40 973.70,865.40"/>
<g transform="rotate(90)">
<ellipse cx="841.79" cy="-979.44" rx="2.68" ry="3.88" transform="rotate(10 841.79 -979.44)" fill="none" stroke="#555" stroke-width="1.03"/>
<line x1="838.90" y1="-973.74" x2="844.68" y2="-985.60" stroke="#555" stroke-width="1.03"/>
<text transform="translate(846.36,-974.20) scale(0.9758,1)" font-family="Liberation Sans" font-size="16.29" fill="#555" stroke="#fff" stroke-width="0.28">22</text>
</g>
</svg></body></html>
